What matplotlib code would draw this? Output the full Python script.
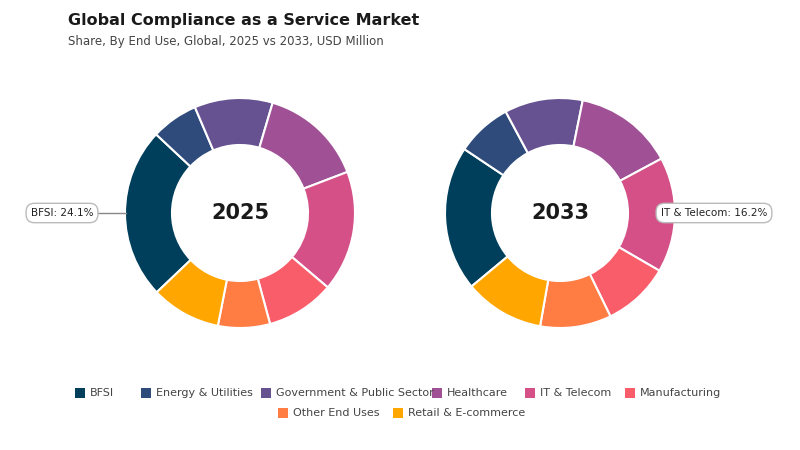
import matplotlib.pyplot as plt

categories = ["BFSI", "Energy & Utilities", "Government & Public Sector", "Healthcare",
              "IT & Telecom", "Manufacturing", "Other End Uses", "Retail & E-commerce"]
share_2025 = [24.1, 6.6, 11.0, 14.6, 17.0, 9.6, 7.3, 9.8]
share_2033 = [20.4, 7.8, 11.0, 14.0, 16.2, 9.4, 10.0, 11.2]
colors = ["#003f5c", "#2f4b7c", "#665191", "#a05195", "#d45087", "#f95d6a", "#ff7c43", "#ffa600"]

fig = plt.figure(figsize=(8, 4.5), dpi=100)
ax = fig.add_axes([0, 0, 1, 1])
ax.set_xlim(0, 800)
ax.set_ylim(0, 450)
ax.set_aspect("equal")
ax.axis("off")

H = 450
donuts = [(240, share_2025, "2025", -136.4, 0), (560, share_2033, "2033", -140.3, 4)]
for cx, vals, year, start, lab_idx in donuts:
    ax.pie(vals, colors=colors, center=(cx, H - 213), radius=115, startangle=start,
           counterclock=False, frame=True,
           wedgeprops=dict(width=47, edgecolor="white", linewidth=1.5))
    ax.text(cx, H - 213, year, ha="center", va="center", fontsize=15, fontweight="bold",
            color="#1a1a1a")

ax.set_xlim(0, 800)
ax.set_ylim(0, 450)
ax.axis("off")

box = dict(boxstyle="round,pad=0.45,rounding_size=0.8", fc="white", ec="#bbbbbb", lw=1)
ax.plot([97, 126], [H - 213, H - 213], color="#888888", lw=1)
ax.text(62, H - 213, f"BFSI: {share_2025[0]}%", ha="center", va="center", fontsize=7.5,
        color="#222222", bbox=box)
ax.text(714, H - 213, f"IT & Telecom: {share_2033[4]}%", ha="center", va="center",
        fontsize=7.5, color="#222222", bbox=box)

fig.text(68 / 800, 1 - 21 / 450, "Global Compliance as a Service Market", fontsize=11.5,
         fontweight="bold", color="#1a1a1a", va="center")
fig.text(68 / 800, 1 - 41 / 450, "Share, By End Use, Global, 2025 vs 2033, USD Million",
         fontsize=8.5, color="#444444", va="center")

# legend
rows = [(categories[:6], [80, 146, 266, 437, 530, 630], 393),
        (categories[6:], [283, 398], 413)]
k = 0
for names, xs, y in rows:
    for name, x in zip(names, xs):
        ax.add_patch(plt.Rectangle((x - 5, H - y - 5), 10, 10, color=colors[k], lw=0))
        ax.text(x + 10, H - y, name, va="center", fontsize=8, color="#444444")
        k += 1

fig.savefig("out.png", dpi=100)
